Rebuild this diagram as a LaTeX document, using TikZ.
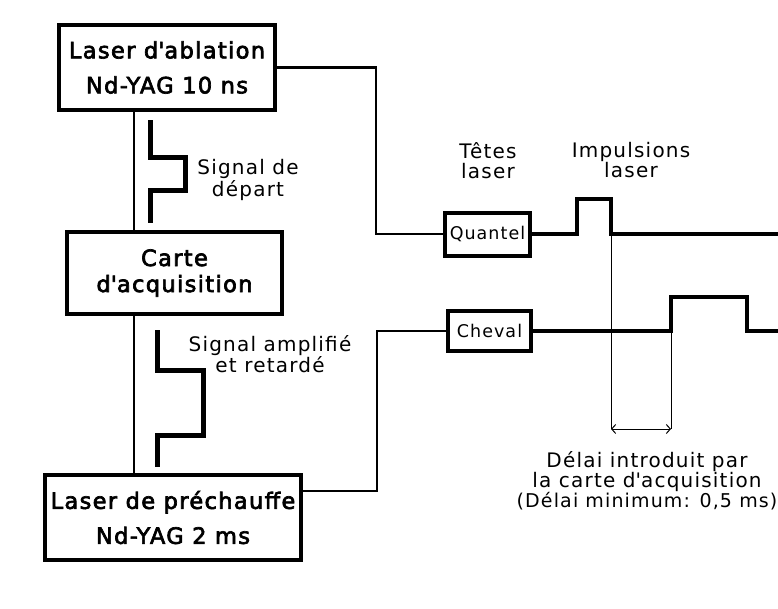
\documentclass[tikz,border=0pt]{standalone}
\usepackage{fontspec}
\setmainfont{DejaVu Sans}[LetterSpace=6]
\newfontfamily\boxfont{DejaVu Sans}[LetterSpace=6,FakeBold=3]
\usetikzlibrary{arrows.meta}
\begin{document}
\begin{tikzpicture}[x=1pt,y=-1pt,
  bigbox/.style={draw,line width=4pt,inner sep=0pt,align=center,font=\boxfont\fontsize{22.5}{35}\selectfont},
  headbox/.style={draw,line width=4pt,inner sep=0pt,font=\fontsize{17.5}{18}\selectfont},
  lbl/.style={align=center,inner sep=0pt,font=\fontsize{20}{20}\selectfont},
  conn/.style={line width=2.5pt},
  pulse/.style={line width=5pt,line join=miter},
  wave/.style={line width=4.5pt,line join=miter},
  hair/.style={line width=1pt}]
\path[use as bounding box] (0,0) rectangle (778,608);
\clip (0,0) rectangle (778,608);

% boxes
\node[bigbox,minimum width=216pt,minimum height=85pt] (abl) at (167,67.5) {Laser d\textquotesingle ablation\\Nd-YAG 10 ns};
\node[bigbox,minimum width=215pt,minimum height=82pt,font=\boxfont\fontsize{22.5}{26}\selectfont] (carte) at (174.5,273) {Carte\\d\textquotesingle acquisition};
\node[bigbox,minimum width=256pt,minimum height=85pt] (pre) at (173,517.5) {Laser de préchauffe\\Nd-YAG 2 ms};
\node[headbox,minimum width=85pt,minimum height=43pt] (quantel) at (487.5,234) {Quantel};
\node[headbox,minimum width=83pt,minimum height=40pt] (cheval) at (489.5,331) {Cheval};

% helper coordinates
\coordinate (vx) at (134,0);
\coordinate (tx) at (376,0);
\coordinate (px) at (377,491);

% connectors
\draw[conn] (abl.south -| vx) -- (carte.north -| vx);
\draw[conn] (carte.south -| vx) -- (pre.north -| vx);
\draw[conn] (abl.east) -- (abl.east -| tx) |- (quantel.west);
\draw[conn] (pre.east |- px) -- (px) |- (cheval.west);

% signal pulses
\draw[pulse] (150,120) -- (150,157) -- (185,157) -- (185,190) -- (150,190) -- (150,223);
\draw[pulse] (157,330) -- (157,370) -- (203,370) -- (203,435) -- (157,435) -- (157,467);

% labels
\node[lbl] (sd) at (248,180) {Signal de\\départ};
\node[lbl] (sa) at (270,354.5) {Signal amplifié\\et retardé};
\node[lbl] (tl) at (488,161) {Têtes\\laser};
\node[lbl] (il) at (631,160) {Impulsions\\laser};
\node[lbl] (dl) at (647,481) {Délai introduit par\\la carte d\textquotesingle acquisition\\{\fontsize{19}{20}\selectfont(Délai minimum: 0,5 ms)}};

% laser pulses
\coordinate (q1) at (611,234);
\coordinate (c1) at (671,331);
\coordinate (a1) at (611,429);
\coordinate (a2) at (671,429);
\draw[wave] (quantel.east) -- (577,234) -- (577,199) -- (611,199) -- (q1) -- (790,234);
\draw[wave] (cheval.east) -- (c1) -- (671,297) -- (747,297) -- (747,331) -- (790,331);

% delay
\draw[hair] (q1) -- (a1);
\draw[hair] (c1) -- (a2);
\draw[hair,{Straight Barb[length=4pt,width=9pt]}-{Straight Barb[length=4pt,width=9pt]}] (a1) -- (a2);
\end{tikzpicture}
\end{document}
